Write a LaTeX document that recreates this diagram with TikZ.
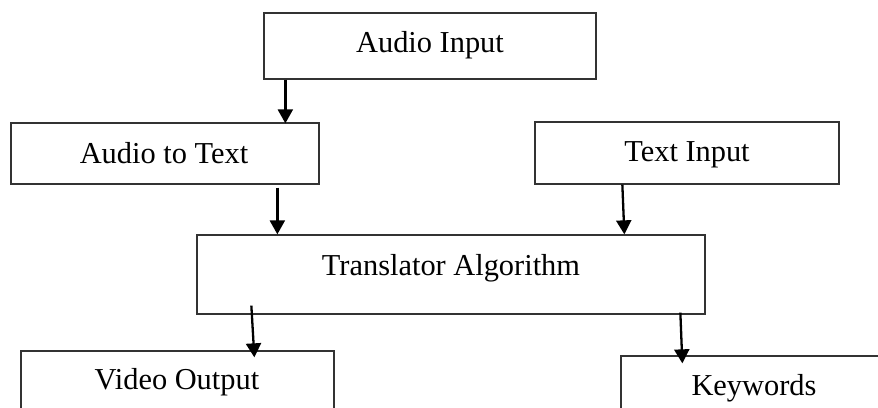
\documentclass[tikz,border=0pt]{standalone}
\usepackage{fontspec}
\setmainfont{Liberation Serif}
\usetikzlibrary{arrows.meta,calc}
\tikzset{
  box/.style={draw=black!80, line width=1.3pt, rectangle, inner sep=0pt},
  lbl/.style={anchor=base, inner sep=0pt, font=\fontsize{30.4}{36}\selectfont},
  arr/.style={line width=2.3pt, black, -{Triangle[width=15pt,length=14pt]}}
}
\begin{document}
\begin{tikzpicture}[x=1pt,y=-1pt]
\useasboundingbox (0,0) rectangle (878,407);
\clip (0,0) rectangle (878,407);
\fill[white] (0,0) rectangle (878,407);
% boxes
\node[box, minimum width=332pt, minimum height=66pt] (ai) at (430,46) {};
\node[box, minimum width=308pt, minimum height=61pt] (at) at (165,153.5) {};
\node[box, minimum width=304pt, minimum height=62pt] (ti) at (687,153) {};
\node[box, minimum width=508pt, minimum height=79pt] (tr) at (451,274.5) {};
\node[box, minimum width=313pt, minimum height=70pt] (vo) at (177.5,386) {};
\node[box, minimum width=270pt, minimum height=70pt] (kw) at (756,391) {};
% labels
\node[lbl] (ail) at (430,52) {Audio Input};
\node[lbl] (atl) at (164,163) {Audio to Text};
\node[lbl] (til) at (687,161) {Text Input};
\node[lbl] (trl) at (451,275) {Translator Algorithm};
\node[lbl] (vol) at (177,389) {Video Output};
\node[lbl] (kwl) at (754,395) {Keywords};
% arrows
\draw[arr] ([shift={(22,0)}]ai.south west) -- ([shift={(275,1)}]at.north west);
\draw[arr] ([shift={(267,3)}]at.south west) -- ([shift={(81,0)}]tr.north west);
\draw[arr] ([shift={(88,0)}]ti.south west) -- ([shift={(428,0)}]tr.north west);
\draw[arr] ([shift={(55,-9)}]tr.south west) -- ([shift={(234,7)}]vo.north west);
\draw[arr] ([shift={(484,-2)}]tr.south west) -- ([shift={(62,8)}]kw.north west);
\end{tikzpicture}
\end{document}
